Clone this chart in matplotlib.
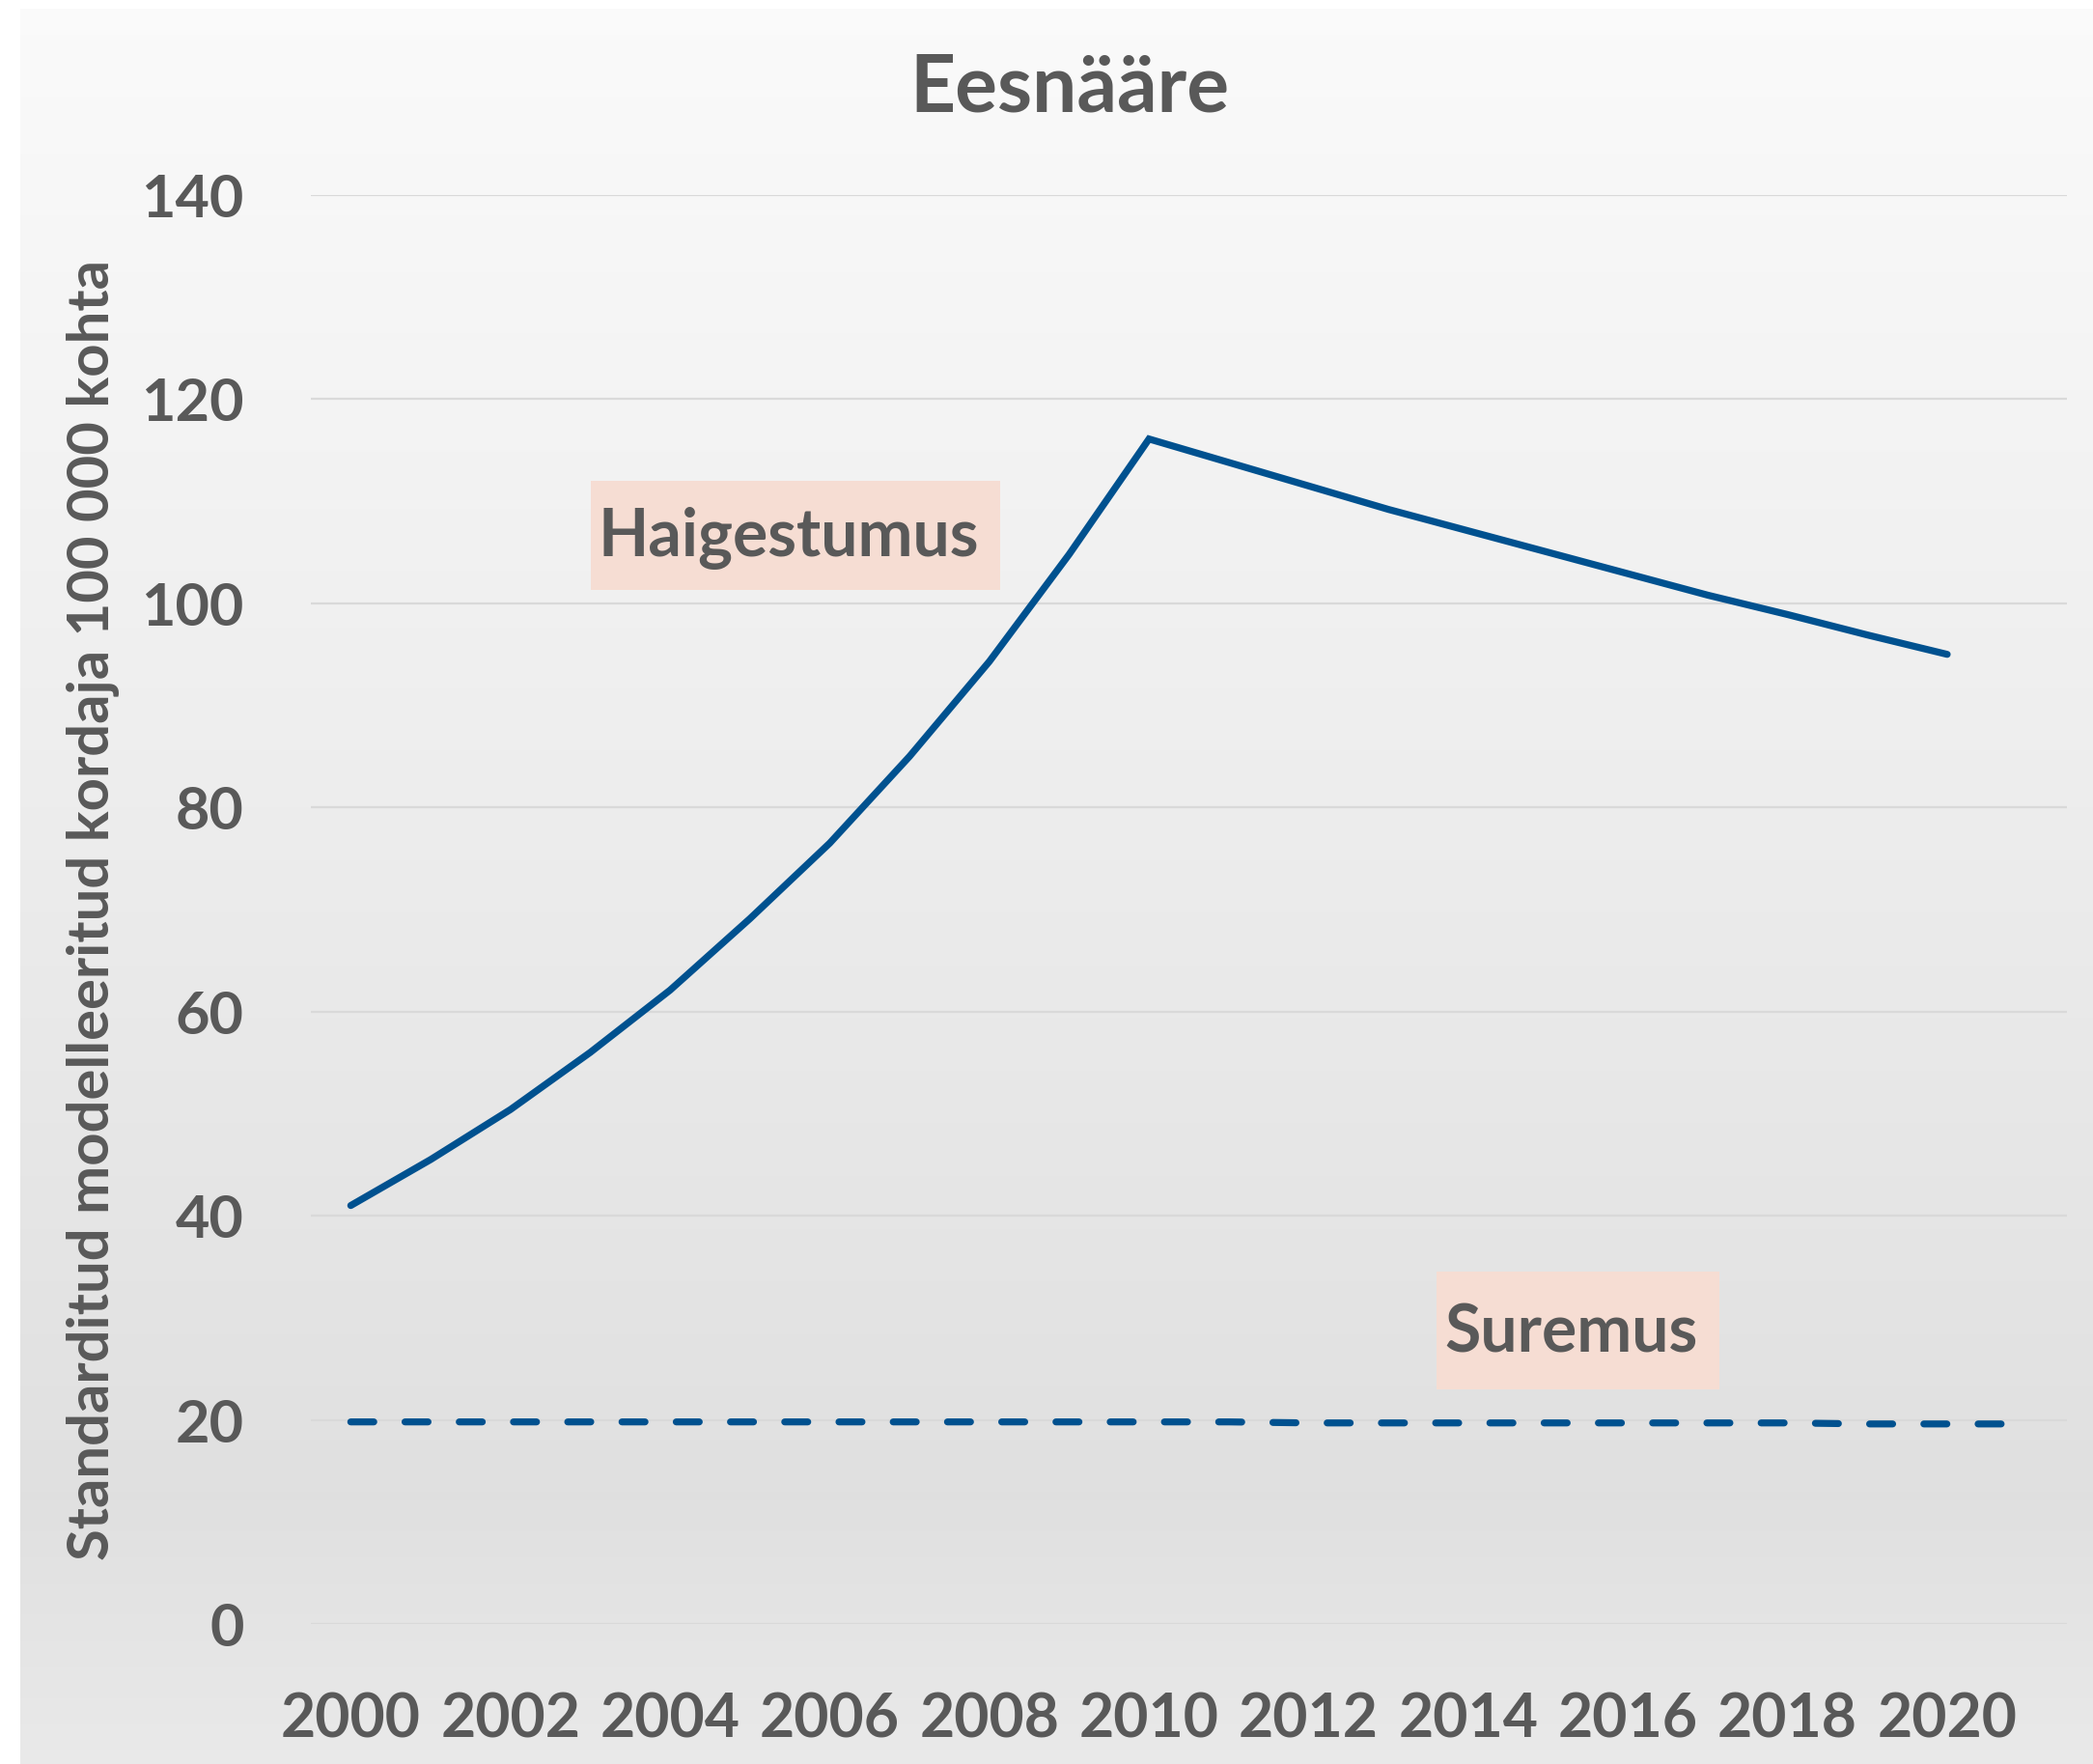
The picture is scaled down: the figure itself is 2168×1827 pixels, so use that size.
import numpy as np
import matplotlib
matplotlib.use("Agg")
import matplotlib.pyplot as plt
from matplotlib.patches import Rectangle

# data
years_inc = list(range(2000, 2021))
haigestumus = [41.0, 45.5, 50.4, 56.0, 62.1, 69.1, 76.5, 85.0, 94.3, 104.8, 116.1,
               113.8, 111.5, 109.2, 107.1, 105.0, 102.9, 100.8, 98.9, 96.9, 95.0]
years_mort = list(range(2000, 2022))
suremus = [19.8, 19.8, 19.8, 19.8, 19.8, 19.8, 19.8, 19.8, 19.8, 19.8, 19.8,
           19.8, 19.7, 19.7, 19.7, 19.7, 19.7, 19.7, 19.7, 19.6, 19.6, 19.6]
xtick_years = list(range(2000, 2021, 2))
ytick_vals = list(range(0, 141, 20))

title = "Eesnääre"
ylabel = "Standarditud modelleeritud kordaja 100 000 kohta"

W, H = 2168, 1827
txt_col = "#595959"
line_col = "#00518F"
box_col = "#F6DDD3"
plt.rcParams["font.family"] = ["Lato", "DejaVu Sans"]
plt.rcParams["font.weight"] = "bold"

fig = plt.figure(figsize=(W / 100, H / 100), dpi=100, facecolor="white")

# background gradient (Excel-like)
bg = fig.add_axes([21 / W, 0, 1 - 21 / W, (H - 9) / H], zorder=-5)
stops_y = [0.0, 0.45, 0.85, 1.0]
stops_v = [0.982, 0.93, 0.878, 0.915]
grad = np.interp(np.linspace(0, 1, 400), stops_y, stops_v).reshape(-1, 1)
bg.imshow(np.dstack([grad, grad, grad]), aspect="auto", extent=[0, 1, 0, 1])
bg.set_axis_off()

ax = fig.add_axes([322 / W, 1 - 1682 / H, (2141 - 322) / W, (1682 - 202) / H])
ax.set_facecolor("none")

ax.plot(years_inc, haigestumus, color=line_col, lw=5.2,
        solid_capstyle="round", solid_joinstyle="miter", zorder=3)
ax.plot(years_mort, suremus, color=line_col, lw=5.2,
        dashes=(3.3, 4.48), dash_capstyle="round", zorder=3)

ax.set_xlim(1999.5, 2021.5)
ax.set_ylim(0, 140)
ax.set_xticks(xtick_years)
ax.set_xticklabels([str(y) for y in xtick_years])
ax.set_yticks(ytick_vals)
ax.tick_params(axis="x", length=0, pad=51, labelsize=45, labelcolor=txt_col)
ax.tick_params(axis="y", length=0, pad=50, labelsize=44, labelcolor=txt_col)
for lab in ax.get_xticklabels() + ax.get_yticklabels():
    lab.set_fontweight("bold")
ax.grid(axis="y", color="#D9D9D9", lw=1.6)
ax.set_axisbelow(True)
for sp in ax.spines.values():
    sp.set_visible(False)

# label boxes
def label_box(cx, cy, w, h, text):
    ax.add_patch(Rectangle((cx - w / 2, cy - h / 2), w, h, transform=ax.transAxes,
                           facecolor=box_col, edgecolor="none", zorder=2))
    ax.text(cx - 0.004, cy - 0.002, text, transform=ax.transAxes, ha="center",
            va="center", fontsize=49, fontweight="bold", color=txt_col, zorder=4)

label_box((824 - 322) / 1819, (1682 - 554.5) / 1480, 424 / 1819, 113 / 1480, "Haigestumus")
label_box((1634.5 - 322) / 1819, (1682 - 1378) / 1480, 293 / 1819, 122 / 1480, "Suremus")

fig.text(1108 / W, 1 - 116 / H, title, ha="center", va="baseline",
         fontsize=59, fontweight="bold", color=txt_col)
fig.text(97 / W, 1 - 942 / H, ylabel, rotation=90, ha="center", va="center",
         fontsize=43, fontweight="bold", color=txt_col)

fig.savefig("out.png", dpi=100, facecolor="white")
